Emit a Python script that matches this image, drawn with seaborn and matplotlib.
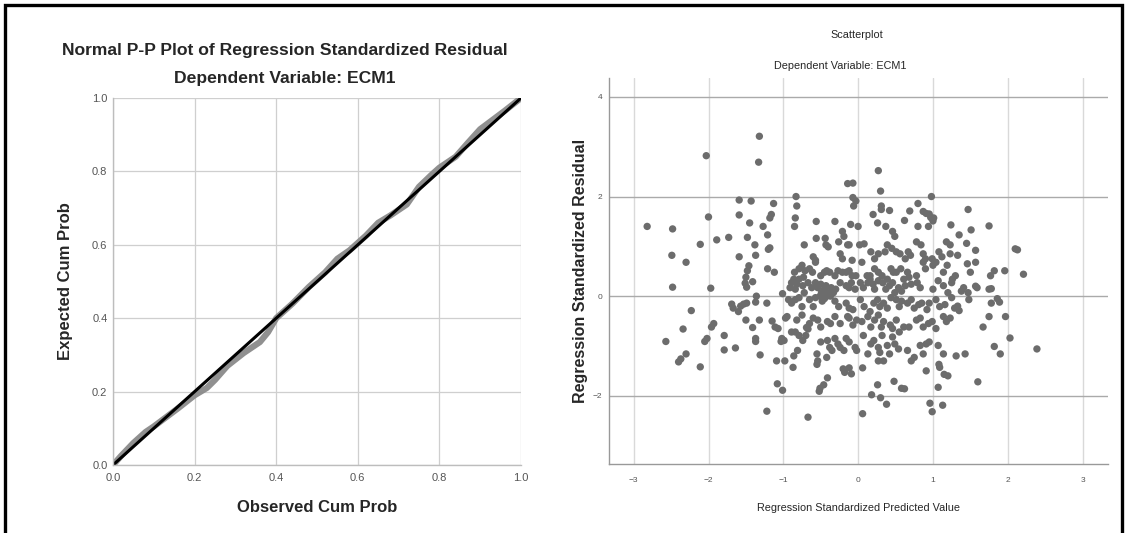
import matplotlib
matplotlib.use("Agg")
import matplotlib.pyplot as plt
from matplotlib.patches import Rectangle
import seaborn as sns
import pandas as pd

# ---------------- data ----------------
# Normal P-P plot (observed vs expected cumulative probability)
observed_cum = [0.00, 0.02, 0.05, 0.08, 0.10, 0.13, 0.16, 0.20, 0.23, 0.25, 0.28, 0.32,
                0.36, 0.38, 0.40, 0.44, 0.48, 0.52, 0.55, 0.58, 0.62, 0.65, 0.68, 0.72,
                0.75, 0.78, 0.80, 0.84, 0.87, 0.90, 0.93, 0.96, 1.00]
expected_cum = [0.00, 0.025, 0.06, 0.09, 0.105, 0.13, 0.155, 0.19, 0.21, 0.232, 0.27, 0.305,
                0.335, 0.362, 0.40, 0.44, 0.485, 0.525, 0.562, 0.585, 0.625, 0.66, 0.68, 0.71,
                0.758, 0.79, 0.81, 0.84, 0.878, 0.915, 0.94, 0.965, 1.00]
reference_line = [0.0, 1.0]

# Scatterplot: standardized predicted value vs standardized residual
pred_sparse = [-2.82, -2.48, -2.49, -2.48, -2.30, -2.57, -2.37, -2.40, -2.30, -2.34, -2.23, -2.11,
               -2.11, -2.03, -2.00, -1.97, -1.96, -1.93, -2.05, -2.02, -1.89, -1.79, -1.79, -1.73,
               -1.64, -1.69, -1.67, -1.59, -1.59, -1.59, -1.60, -1.57, -1.53, -1.49, -1.50, -1.43,
               -1.45, -1.48, -1.46, -1.48, -1.50, -1.51, -1.49, -1.41, -1.41, -1.38, -1.37, -1.36,
               -1.37, -1.37, -1.37, -1.32, -1.31, -1.32, -1.33, -1.27, -1.21, -1.20, -1.18, -1.21,
               -1.22, -1.22, -1.18, -1.16, -1.13, -1.12, -1.15, -1.11, -1.07, -1.09, -1.08, -1.01,
               -1.01, -1.02, -0.99, -1.03, -0.97, -0.95, -0.98, -0.91, -0.93, -0.89, -0.89, -0.84,
               -0.79, -0.86, -0.87, -0.83, -0.82, -0.84, -0.85, -0.81, -0.72, -0.67, -0.69, -0.67,
               -0.56, -0.56, -0.60, -0.57, -0.55, -0.54, -0.55, -0.51, -0.52, -0.46, -0.41, -0.44,
               -0.43, -0.31, -0.26, -0.21, -0.19, -0.14, -0.14, -0.07, -0.03, -0.06, -0.07, -0.10,
               0.00, 0.02, 0.08, -0.20, -0.18, -0.12, -0.09, 0.06, 0.06, 0.18, 0.27, 0.30,
               0.31, 0.31, 0.20, 0.26, 0.42, 0.37, 0.46, 0.49, 0.26, 0.30, 0.38, 0.48,
               0.58, 0.62, 0.62, 0.69, 0.80, 0.80, 0.87, 0.91, 0.95, 0.97, 1.00, 0.94,
               1.01, 0.98, 0.96, 0.99, 1.07, 1.13, 1.08, 1.09, 1.15, 1.20, 0.91, 1.24,
               1.47, 1.51, 1.35, 1.45, 1.57, 1.57, 1.75, 2.10, 2.13, 2.21, 1.96, 1.82,
               1.77, 1.75, 1.78, 1.86, 1.89, 1.78, 1.75, 1.97, 2.03, 1.82, 1.90, 1.67,
               1.60, 2.39, 1.43, 1.31, 1.57, 1.59, 1.50, 1.47, 1.48, 1.33, 1.35, 1.46]
resid_sparse = [1.40, 1.35, 0.82, 0.18, 0.68, -0.91, -1.26, -1.32, -1.16, -0.66, -0.29, 1.04,
                -1.42, 2.82, 1.59, 0.16, -0.62, -0.55, -0.91, -0.85, 1.13, -0.79, -1.08, 1.18,
                -1.04, -0.16, -0.24, 1.93, 1.63, 0.79, -0.31, -0.20, -0.16, -0.14, -0.48, 1.91,
                1.47, 1.18, 0.61, 0.51, 0.38, 0.26, 0.18, 0.29, -0.63, 1.03, 0.82, 0.00,
                -0.12, -0.85, -0.91, -0.48, -1.18, 3.21, 2.69, 1.40, 1.23, 0.94, 0.97, 0.55,
                -0.14, -2.31, 1.57, 1.64, 1.86, 0.48, -0.50, -0.62, -0.65, -1.30, -1.76, -1.89,
                0.05, -0.85, -0.89, -0.91, -0.44, -0.41, -1.30, 0.17, -0.07, -0.14, -0.72, -0.72,
                -0.79, -1.20, -1.43, 2.00, 1.81, 1.57, 1.40, -1.09, 1.03, -0.66, -0.63, -2.43,
                1.50, 1.16, 0.79, 0.72, -1.16, -1.30, -1.37, -1.85, -1.91, -1.78, -1.64, 1.16,
                1.03, 1.50, 1.09, 1.30, 1.20, 1.03, 2.26, 2.27, 1.91, 1.81, 1.98, 1.44,
                1.40, 1.03, 1.05, -1.46, -1.53, -1.44, -1.56, -1.44, -2.36, -1.98, 2.52, 2.11,
                1.81, 1.74, 1.64, 1.47, 1.72, 1.40, 1.30, 1.20, -1.78, -2.04, -2.17, -1.71,
                -1.85, -1.86, 1.52, 1.71, 1.86, 1.40, 1.70, 1.66, 1.65, 1.58, 1.51, 1.40,
                1.57, 2.00, -2.15, -2.32, -1.83, -2.19, -1.37, -1.43, -1.57, -1.60, -1.50, 1.43,
                1.74, 1.33, 1.23, 1.06, 0.92, 0.68, 1.41, 0.95, 0.93, 0.44, 0.51, 0.51,
                0.41, 0.14, 0.15, -0.05, -0.12, -0.14, -0.41, -0.41, -0.84, -1.01, -1.16, -0.62,
                -1.72, -1.06, -1.16, -1.20, 0.20, 0.17, 0.48, 0.07, -0.07, -0.20, -0.29, 0.65]

pred_dense = [-0.40, -0.24, -0.21, -0.12, -0.08, 0.17, 0.22, 0.27, 0.36, 0.39, 0.45, 0.51,
              0.56, 0.63, 0.67, 0.70, 0.78, 0.84, 0.87, 0.90, 0.99, 1.08, 1.12, 1.18,
              1.23, 1.23, 1.33,
              -0.85, -0.79, -0.75, -0.73, -0.71, -0.65, -0.61, -0.57, -0.50, -0.45, -0.42, -0.38,
              -0.31, -0.27, -0.21, -0.16, -0.12, -0.08, -0.03, 0.05, 0.12, 0.16, 0.22, 0.27,
              0.32, 0.39, 0.44, 0.47, 0.51, 0.57, 0.61, 0.66, 0.68, 0.78, 0.87, 0.90,
              1.00, 1.04, 1.14, 1.19, 1.26, 1.30,
              -0.89, -0.86, -0.84, -0.82, -0.79, -0.74, -0.72, -0.67, -0.62, -0.57, -0.54, -0.50,
              -0.49, -0.45, -0.43, -0.41, -0.36, -0.33, -0.30, -0.24, -0.16, -0.12, -0.09, -0.04,
              0.03, 0.07, 0.13, 0.16, 0.20, 0.22, 0.27, 0.33, 0.37, 0.42, 0.46, 0.49,
              0.54, 0.58, 0.63, 0.71, 0.79, 0.83, 1.00, 1.07, 1.14, 1.20, 1.25, 1.38, 1.41,
              -0.84, -0.79, -0.75, -0.65, -0.60, -0.57, -0.51, -0.48, -0.45, -0.42, -0.37, -0.31,
              -0.26, -0.16, -0.12, -0.07, 0.03, 0.08, 0.16, 0.21, 0.26, 0.29, 0.34, 0.39,
              0.44, 0.51, 0.55, 0.58, 0.66, 0.71, 0.75, 0.81, 0.85, 0.92, 0.95, 1.04,
              1.09, 1.16, 1.25, 1.29,
              -0.82, -0.75, -0.65, -0.60, -0.54, -0.50, -0.41, -0.37, -0.31, -0.24, -0.14, -0.12,
              -0.07, -0.02, 0.05, 0.13, 0.17, 0.22, 0.27, 0.31, 0.34, 0.43, 0.46, 0.51,
              0.55, 0.61, 0.68, 0.78, 0.83, 0.87, 0.94, 0.99, 1.14, 1.18, 1.23, 1.04,
              -0.74, -0.70, -0.50, -0.41, -0.38, -0.35, -0.31, -0.27, -0.24, -0.19, -0.16, -0.12,
              -0.04, -0.02, 0.07, 0.13, 0.17, 0.21, 0.27, 0.29, 0.32, 0.39, 0.42, 0.46,
              0.49, 0.54, 0.66, 0.71, 0.75, 0.83, 0.87, 0.91, 0.95, 1.07, 1.14, 0.27,
              0.34, -0.42]
resid_dense = [0.99, 0.85, 0.75, 1.03, 0.72, 0.89, 0.75, 0.85, 0.89, 1.03, 0.96, 0.89,
               0.85, 0.75, 0.89, 0.82, 1.09, 1.03, 0.85, 0.75, 0.75, 0.89, 0.79, 1.09,
               1.03, 0.85, 0.82,
               0.48, 0.55, 0.62, 0.38, 0.51, 0.55, 0.48, 0.68, 0.41, 0.48, 0.51, 0.48,
               0.41, 0.51, 0.48, 0.48, 0.51, 0.41, 0.41, 0.68, 0.41, 0.41, 0.55, 0.48,
               0.41, 0.34, 0.55, 0.48, 0.48, 0.55, 0.34, 0.48, 0.38, 0.41, 0.68, 0.55,
               0.62, 0.68, 0.48, 0.62, 0.34, 0.41,
               0.27, 0.34, 0.14, 0.24, 0.34, 0.21, 0.07, 0.27, 0.17, 0.27, 0.17, 0.24,
               0.07, 0.14, 0.21, 0.07, 0.17, 0.07, 0.14, 0.27, 0.21, 0.17, 0.27, 0.14,
               0.27, 0.17, 0.27, 0.34, 0.24, 0.14, 0.31, 0.27, 0.14, 0.21, 0.27, 0.07,
               0.17, 0.10, 0.21, 0.24, 0.27, 0.17, 0.14, 0.31, 0.21, 0.07, 0.27, 0.10, 0.17,
               -0.07, -0.03, -0.21, -0.07, -0.21, -0.03, 0.00, -0.10, -0.05, 0.00, 0.00, -0.10,
               -0.21, -0.14, -0.24, -0.27, -0.07, -0.21, -0.31, -0.14, -0.07, -0.21, -0.14, -0.24,
               -0.03, -0.07, -0.21, -0.10, -0.14, -0.07, -0.24, -0.17, -0.14, -0.27, -0.14, -0.07,
               -0.21, -0.17, -0.03, -0.24,
               -0.48, -0.38, -0.55, -0.44, -0.48, -0.62, -0.51, -0.55, -0.41, -0.55, -0.41, -0.44,
               -0.58, -0.48, -0.51, -0.41, -0.62, -0.48, -0.38, -0.62, -0.51, -0.58, -0.65, -0.48,
               -0.72, -0.62, -0.62, -0.48, -0.44, -0.62, -0.55, -0.51, -0.41, -0.51, -0.44, -0.65,
               -0.89, -0.79, -0.92, -0.89, -1.03, -1.09, -0.85, -0.96, -1.03, -1.09, -0.85, -0.92,
               -1.03, -1.09, -0.79, -1.16, -0.96, -0.89, -1.03, -1.13, -0.79, -0.99, -1.16, -0.82,
               -0.96, -1.06, -1.09, -1.30, -1.23, -0.99, -1.16, -0.96, -0.92, -0.99, -1.16, -1.30,
               -1.30, -1.23]

x_ticks = [-3, -2, -1, 0, 1, 2, 3]
y_ticks = [-2, 0, 2, 4]
pp_ticks = [0.0, 0.2, 0.4, 0.6, 0.8, 1.0]

pp_df = pd.DataFrame({"Observed": observed_cum, "Expected": expected_cum})
ref_df = pd.DataFrame({"Observed": reference_line, "Expected": reference_line})
sc_df = pd.DataFrame({"Predicted": pred_sparse + pred_dense,
                      "Residual": resid_sparse + resid_dense})

# ---------------- figure ----------------
sns.set_theme(style="white")
plt.rcParams["font.family"] = ["Liberation Sans", "DejaVu Sans"]

W, H = 1127, 533
fig = plt.figure(figsize=(W / 100, H / 100), dpi=100)
fig.patch.set_facecolor("white")

# outer black frame (top, left, right)
fig.add_artist(Rectangle((0.0045, -0.05), 0.9915, 1.0405, transform=fig.transFigure,
                         fill=False, edgecolor="black", linewidth=2.4))

# ---- left panel: P-P plot ----
ax1 = fig.add_axes([113 / W, 1 - 465 / H, (521 - 113) / W, (465 - 98) / H])
sns.lineplot(data=pp_df, x="Observed", y="Expected", sort=False, ax=ax1,
             color="#8a8a8a", linewidth=4.5, alpha=0.95)
sns.lineplot(data=ref_df, x="Observed", y="Expected", sort=False, ax=ax1,
             color="black", linewidth=2.2)
ax1.set_xlim(0, 1)
ax1.set_ylim(0, 1)
ax1.set_xticks(pp_ticks)
ax1.set_yticks(pp_ticks)
ax1.set_xticklabels([f"{t:.1f}" for t in pp_ticks])
ax1.set_yticklabels([f"{t:.1f}" for t in pp_ticks])
ax1.grid(True, color="#cfcfcf", linewidth=0.9)
ax1.set_axisbelow(True)
for s in ["top", "right"]:
    ax1.spines[s].set_visible(False)
for s in ["left", "bottom"]:
    ax1.spines[s].set_color("#bdbdbd")
    ax1.spines[s].set_linewidth(1.0)
ax1.tick_params(length=0, labelsize=8, labelcolor="#555555")
ax1.tick_params(axis="x", pad=6)
ax1.tick_params(axis="y", pad=4)
ax1.set_xlabel("Observed Cum Prob", fontsize=12, fontweight="bold", labelpad=12)
ax1.set_ylabel("Expected Cum Prob", fontsize=12, fontweight="bold", labelpad=14)
fig.text(285 / W, 1 - 50 / H, "Normal P-P Plot of Regression Standardized Residual",
         ha="center", va="center", fontsize=12.6, fontweight="bold")
fig.text(285 / W, 1 - 79 / H, "Dependent Variable: ECM1",
         ha="center", va="center", fontsize=12.6, fontweight="bold")

# ---- right panel: scatterplot ----
ax2 = fig.add_axes([609 / W, 1 - 464 / H, (1108 - 609) / W, (464 - 78) / H])
sns.scatterplot(data=sc_df, x="Predicted", y="Residual", ax=ax2,
                color="#6c6c6c", s=28, edgecolor="none", linewidth=0)
ax2.set_xlim(-3.33, 3.34)
ax2.set_ylim(-3.37, 4.38)
ax2.set_xticks(x_ticks)
ax2.set_yticks(y_ticks)
ax2.xaxis.grid(True, color="#d9d9d9", linewidth=1.0)
ax2.yaxis.grid(True, color="#aaaaaa", linewidth=1.0)
ax2.set_axisbelow(True)
for s in ["top", "right"]:
    ax2.spines[s].set_visible(False)
for s in ["left", "bottom"]:
    ax2.spines[s].set_color("#999999")
    ax2.spines[s].set_linewidth(1.0)
ax2.tick_params(length=0, labelsize=6, labelcolor="#555555")
ax2.tick_params(axis="x", pad=9)
ax2.tick_params(axis="y", pad=5)
ax2.set_xlabel("Regression Standardized Predicted Value", fontsize=7.8, labelpad=14)
ax2.set_ylabel("Regression Standardized Residual", fontsize=11.5, fontweight="bold",
               labelpad=3)
fig.text(857 / W, 1 - 35 / H, "Scatterplot", ha="center", va="center", fontsize=7.8)
fig.text(840 / W, 1 - 66 / H, "Dependent Variable: ECM1", ha="center", va="center",
         fontsize=7.8)

fig.savefig("out.png", dpi=100, facecolor="white")
